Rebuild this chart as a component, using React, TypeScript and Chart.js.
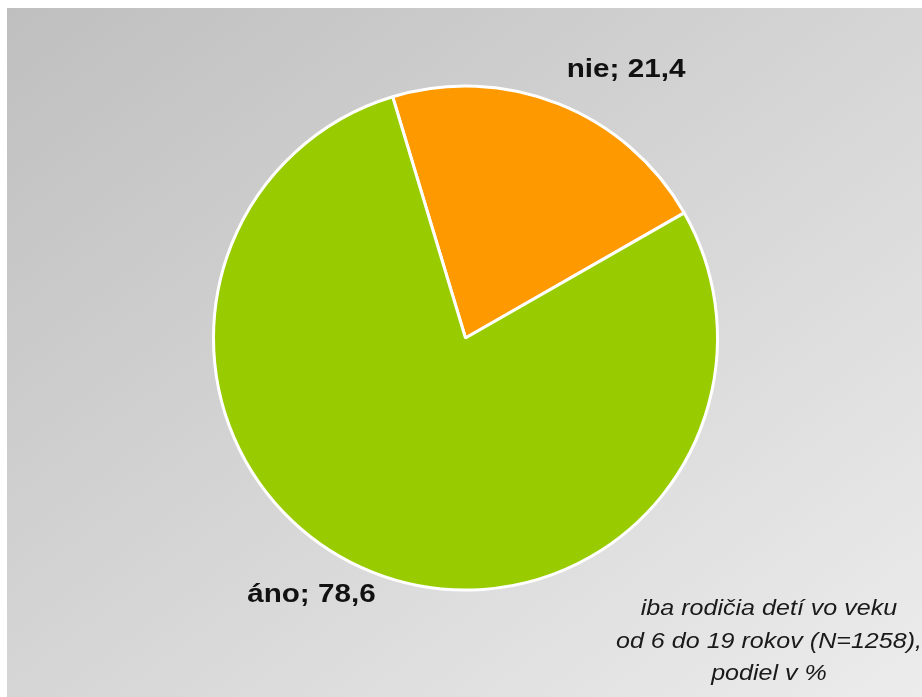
import React, { useEffect, useRef } from "react";
import { Chart, registerables } from "chart.js";

Chart.register(...registerables);

const categories: string[] = ["nie", "áno"];
const values: number[] = [21.4, 78.6];
const sliceColors: string[] = ["#ff9900", "#99cc00"];
const noteLines: string[] = [
  "iba rodičia detí vo veku",
  "od 6 do 19 rokov (N=1258),",
  "podiel v %",
];

const W = 915;
const H = 689;

const fmt = (v: number) => v.toFixed(1).replace(".", ",");

const labelPlugin = {
  id: "sliceLabels",
  afterDraw(chart: any) {
    const ctx: CanvasRenderingContext2D = chart.ctx;
    const meta = chart.getDatasetMeta(0);
    const radial = [1.24, 1.19];
    const shift = (9.2 * Math.PI) / 180;
    ctx.save();
    ctx.fillStyle = "#111111";
    ctx.font = "bold 26px 'Liberation Sans', Arial, sans-serif";
    ctx.textAlign = "center";
    ctx.textBaseline = "middle";
    meta.data.forEach((arc: any, i: number) => {
      const p = arc.getProps(["x", "y", "startAngle", "endAngle", "outerRadius"], true);
      const mid = (p.startAngle + p.endAngle) / 2 + shift;
      const r = p.outerRadius * radial[i];
      const x = p.x + Math.cos(mid) * r;
      const y = p.y + Math.sin(mid) * r;
      ctx.save();
      ctx.translate(x, y);
      ctx.scale(1.14, 1);
      ctx.fillText(`${categories[i]}; ${fmt(values[i])}`, 0, 0);
      ctx.restore();
    });
    ctx.font = "italic 22px 'Liberation Sans', Arial, sans-serif";
    ctx.textBaseline = "alphabetic";
    ctx.fillStyle = "#1a1a1a";
    noteLines.forEach((line, i) => {
      ctx.save();
      ctx.translate(762, 607 + i * 32.5);
      ctx.scale(1.14, 1);
      ctx.fillText(line, 0, 0);
      ctx.restore();
    });
    ctx.restore();
  },
};

export default function App() {
  const ref = useRef<HTMLCanvasElement | null>(null);
  useEffect(() => {
    if (!ref.current) return;
    const chart = new Chart(ref.current, {
      type: "pie",
      data: {
        labels: categories,
        datasets: [
          {
            data: values,
            backgroundColor: sliceColors,
            borderColor: "#ffffff",
            borderWidth: 3,
          },
        ],
      },
      options: {
        responsive: false,
        animation: false,
        rotation: -16.8,
        layout: { padding: { left: 205, right: 203, top: 76.5, bottom: 105.5 } },
        plugins: {
          legend: { display: false },
          tooltip: { enabled: false },
          title: { display: false },
        },
      },
      plugins: [labelPlugin],
    });
    return () => chart.destroy();
  }, []);
  return (
    <div
      style={{
        position: "fixed",
        left: 7,
        top: 8,
        width: W,
        height: H,
        background: "linear-gradient(to bottom right, #bfbfbf, #ececec)",
      }}
    >
      <canvas ref={ref} width={W} height={H} style={{ display: "block" }} />
    </div>
  );
}
